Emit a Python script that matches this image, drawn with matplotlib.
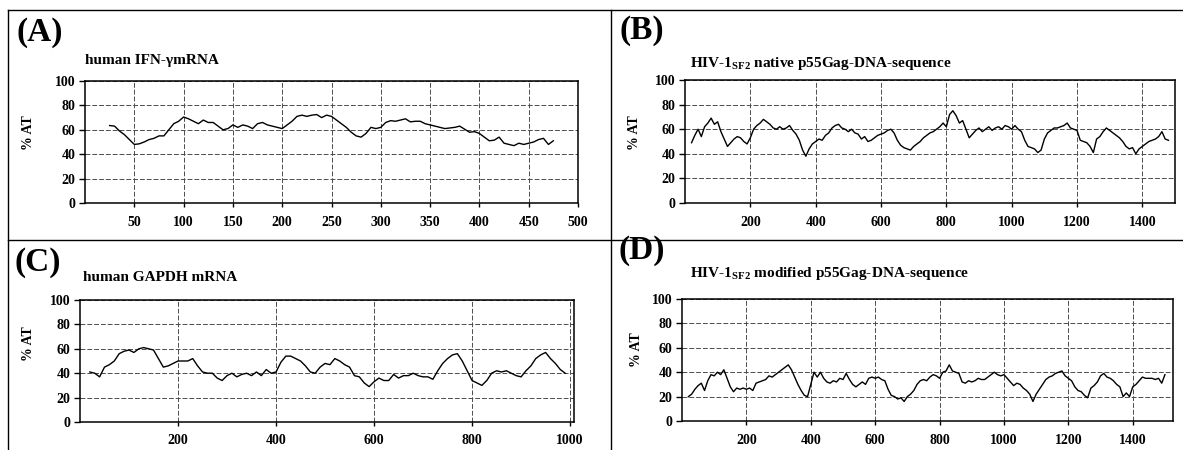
import matplotlib
matplotlib.use("Agg")
import matplotlib.pyplot as plt
from matplotlib.lines import Line2D

plt.rcParams['font.family'] = ['Liberation Serif', 'DejaVu Serif']
plt.rcParams['font.weight'] = 'bold'
plt.rcParams['mathtext.fontset'] = 'custom'
plt.rcParams['mathtext.rm'] = 'Liberation Serif:bold'
plt.rcParams['mathtext.bf'] = 'Liberation Serif:bold'

# (A) human IFN-gamma mRNA, %AT in sliding window
a_pos = list(range(25, 480, 5))
a_at = [63.5, 63, 59, 56, 52, 48, 48.5, 50, 52, 53, 55, 55, 60, 65, 67, 70.5, 69, 67, 65, 68,
        66, 66, 63, 60, 61, 64, 62, 64, 63, 61, 65, 66, 64, 63, 62, 61, 64, 67, 71, 72,
        71, 72, 72.5, 70, 72, 71, 68, 65, 62, 58, 55, 54, 57, 62, 61, 62, 66, 67.5, 67, 68,
        69, 66.5, 67, 67, 65, 64, 63, 62, 61, 61.5, 62, 63, 60.5, 58, 58.5, 57, 54, 51, 51.5, 54,
        49, 48, 47, 49, 48, 49, 50, 52, 53, 48, 51]

# (B) HIV-1 SF2 native p55Gag
b_pos = list(range(20, 1490, 10))
b_at = [49, 55, 60, 54, 62, 65, 69, 64, 66, 58, 52, 46, 49, 52, 54, 53, 50, 48, 53, 60,
        63, 65, 68, 66, 64, 61, 60, 62, 60, 61, 63, 59, 56, 51, 43, 38, 44, 48, 50, 52,
        51, 55, 57, 61, 63, 64, 61, 60, 58, 60, 57, 56, 52, 54, 50, 51, 53, 55, 56, 57,
        59, 60, 57, 51, 47, 45, 44, 43, 46, 48, 50, 53, 55, 57, 58, 60, 62, 65, 62, 72,
        75, 71, 65, 67, 60, 53, 56, 59, 61, 58, 60, 62, 59, 61, 62, 60, 63, 62, 60, 63,
        60, 58, 51, 46, 45, 44, 41, 43, 52, 57, 59, 61, 61, 62, 63, 65, 61, 60, 59, 51,
        50, 49, 46, 41, 52, 54, 58, 61, 59, 57, 55, 53, 50, 46, 44, 45, 40, 44, 46, 48,
        50, 51, 52, 54, 58, 52, 51]

# (C) human GAPDH mRNA
c_pos = list(range(20, 1000, 10))
c_at = [41, 40, 37, 45, 47, 50, 56, 58, 59, 57, 60, 61, 60, 59, 52, 45, 46, 48, 50, 50,
        50, 52, 46, 41, 40, 40, 36, 34, 38, 40, 37, 39, 40, 38, 41, 38, 43, 40, 41, 49,
        54, 54, 52, 50, 46, 41, 40, 45, 48, 47, 52, 50, 47, 45, 38, 37, 32, 29, 33, 36,
        34, 34, 39, 36, 38, 38, 40, 38, 37, 37, 35, 42, 48, 52, 55, 56, 50, 42, 34, 32,
        30, 34, 40, 42, 41, 42, 40, 38, 37, 42, 46, 52, 55, 57, 52, 48, 43, 40]

# (D) HIV-1 SF2 modified p55Gag
d_pos = list(range(20, 1510, 10))
d_at = [20, 22, 26, 29, 31, 25, 33, 38, 37, 40, 38, 42, 35, 28, 24, 27, 26, 27, 26, 27,
        25, 31, 32, 33, 34, 37, 36, 38, 40, 42, 44, 46, 42, 36, 30, 25, 21, 20, 30, 40,
        36, 40, 35, 32, 31, 33, 32, 35, 34, 39, 34, 30, 28, 30, 32, 30, 35, 36, 35, 36,
        34, 33, 26, 21, 20, 18, 19, 16, 20, 22, 25, 30, 33, 34, 33, 36, 38, 37, 35, 40,
        41, 46, 41, 40, 39, 32, 31, 33, 32, 33, 35, 34, 34, 36, 38, 40, 38, 37, 38, 35,
        32, 29, 31, 30, 27, 25, 22, 16, 22, 26, 30, 34, 36, 37, 39, 40, 41, 37, 35, 33,
        28, 25, 24, 21, 19, 27, 29, 32, 37, 39, 36, 35, 33, 30, 28, 20, 23, 20, 28, 30,
        33, 36, 35, 35, 35, 34, 35, 31, 38]

W, H = 1183, 450
fig = plt.figure(figsize=(W / 100, H / 100), dpi=100)


def px_box(left, right, top, bottom):
    return [left / W, 1 - bottom / H, (right - left) / W, (bottom - top) / H]


panels = [
    # letter, title, x, y, xlim, xticks, axes box, letter pos, title pos, ylabel pos
    ("(A)", "human IFN-\u03b3mRNA", a_pos, a_at, 500, range(50, 501, 50),
     px_box(85, 578, 81, 203), (16, 32), (85, 64), (29, 133)),
    ("(B)", r"HIV-1$_{\mathrm{SF2}}$ native p55Gag-DNA-sequence", b_pos, b_at, 1500,
     range(200, 1401, 200), px_box(685, 1175, 80, 203), (620, 31), (690, 67), (634, 133)),
    ("(C)", "human GAPDH mRNA", c_pos, c_at, 1008, range(200, 1001, 200),
     px_box(80, 574, 300, 422), (14, 262), (83, 281), (28, 344)),
    ("(D)", r"HIV-1$_{\mathrm{SF2}}$ modified p55Gag-DNA-sequence", d_pos, d_at, 1525,
     range(200, 1401, 200), px_box(682, 1173, 299, 421), (618, 250), (690, 277), (636, 350)),
]

for letter, title, xs, ys, xmax, xt, box, lpos, tpos, ypos in panels:
    ax = fig.add_axes(box)
    ax.plot(xs, ys, color='black', lw=1.0)
    ax.set_xlim(0, xmax)
    ax.set_ylim(0, 100)
    ax.set_xticks(list(xt))
    ax.set_yticks(range(0, 101, 20))
    ax.grid(True, color='0.3', lw=0.7, linestyle=(0, (5, 2)))
    ax.set_axisbelow(True)
    for s in ax.spines.values():
        s.set_linewidth(1.1)
        s.set_color('black')
    ax.tick_params(axis='y', direction='out', length=4, width=1, labelsize=10, pad=3)
    ax.tick_params(axis='x', direction='out', length=3, width=1, labelsize=10, pad=6)
    for lab in ax.get_xticklabels() + ax.get_yticklabels():
        lab.set_fontweight('bold')

    fig.text(lpos[0] / W, 1 - lpos[1] / H, letter, fontsize=24, fontweight='bold',
             ha='left', va='center')
    fig.text(tpos[0] / W, 1 - tpos[1] / H, title, fontsize=11, fontweight='bold',
             ha='left', va='baseline')
    fig.text(ypos[0] / W, 1 - ypos[1] / H, "% AT", fontsize=10, fontweight='bold',
             rotation=90, ha='center', va='center')

# panel frame lines
frame = [((8, 8), (10, H)), ((8, W), (10, 10)), ((611, 611), (10, H)), ((8, W), (240, 240))]
for xx, yy in frame:
    fig.add_artist(Line2D([x / W for x in xx], [1 - y / H for y in yy],
                          color='black', lw=1.0))

fig.savefig("out.png", dpi=100)
